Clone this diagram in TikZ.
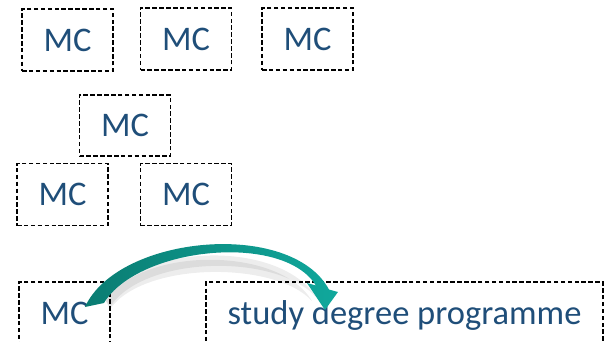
\documentclass[tikz,border=0pt]{standalone}
\usepackage{fontspec}
\setmainfont{Carlito}
\usetikzlibrary{positioning, calc}
\definecolor{mcblue}{RGB}{31,78,121}
\definecolor{tealdark}{RGB}{10,124,114}
\definecolor{teallight}{RGB}{16,168,156}

\begin{document}
\begin{tikzpicture}
        [x=1pt, y=-1pt,
        mcbox/.style={draw, line width=1.9pt, dash pattern=on 4.5pt off 2.4pt, text=mcblue,
            font=\fontsize{34.5}{41}\selectfont, inner sep=0pt, text depth=0pt,
            minimum width=91pt, minimum height=62pt},
        ribbon shadow/.style={fill=black, opacity=0.07}]
        \useasboundingbox (0,0) rectangle (608,341);
        %riquadri prima riga
            \node[mcbox] (mcA) at (67.5,40) {MC};
            \node[mcbox] (mcB) at (186,39) {MC};
            \node[mcbox] (mcC) at (307.5,39) {MC};
        %riquadro singolo
            \node[mcbox, minimum height=61pt] (mcD) at (125,125.5) {MC};
        %riquadri terza riga
            \node[mcbox] (mcE) at (62.5,194.5) {MC};
            \node[mcbox] (mcF) at (186,194.5) {MC};
        %ultima riga
            \node[mcbox] (mcG) at (64.5,313) {MC};
            \node[mcbox, minimum width=397pt] (study) at (404.5,313) {study degree programme};
        %freccia curva da MC al corso di studi
            \coordinate (arrowfrom) at ([xshift=-17pt, yshift=8pt]mcG.east);
            \begin{scope}[shift={(arrowfrom)}]
                %ombra
                \fill[ribbon shadow] (12,-4)..controls (45,-62) and (185,-66).. (222,-8)
                    ..controls (182,-52) and (50,-50).. (16,2) -- cycle;
                \fill[ribbon shadow] (12,-4)..controls (45,-58) and (185,-60).. (218,-4)
                    ..controls (182,-44) and (50,-44).. (16,4) -- cycle;
                %nastro con punta
                \shade[left color=tealdark, right color=teallight]
                    (-9,2)..controls (24,-70) and (197,-86).. (235,-15.5)
                    -- (244,-13) -- (231,5) -- (213,-22) -- (222,-19.5)
                    ..controls (189,-73) and (44,-58).. (10,-2) -- cycle;
            \end{scope}
\end{tikzpicture}
\end{document}
